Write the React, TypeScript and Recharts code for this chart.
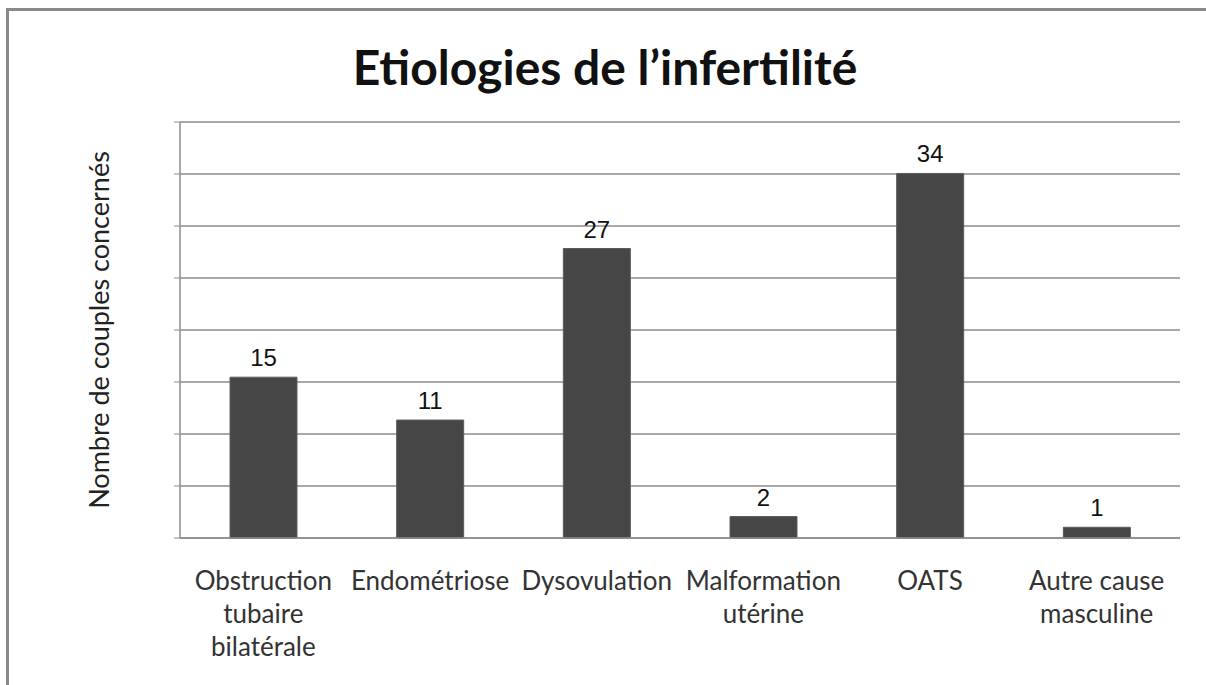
import { BarChart, Bar, XAxis, YAxis, CartesianGrid, LabelList } from 'recharts';

const categories = [
  'Obstruction\ntubaire\nbilatérale',
  'Endométriose',
  'Dysovulation',
  'Malformation\nutérine',
  'OATS',
  'Autre cause\nmasculine',
];
const couples = [15, 11, 27, 2, 34, 1];
// hidden value axis: 8 equal gridline steps
const yMax = 38.8;
const yTicks = [0, 4.85, 9.7, 14.55, 19.4, 24.25, 29.1, 33.95, 38.8];

const chartData = categories.map((name, i) => ({ name, value: couples[i] }));

const CategoryTick = (props: any) => {
  const { x, y, payload } = props;
  const lines = String(payload.value).split('\n');
  return (
    <g transform={`translate(${x},${y})`}>
      {lines.map((line, i) => (
        <text
          key={i}
          x={0}
          y={44 + i * 33}
          textAnchor="middle"
          fontFamily="Lato, 'Open Sans', sans-serif"
          fontSize={26}
          fill="#333"
        >
          {line}
        </text>
      ))}
    </g>
  );
};

export default function App() {
  return (
    <div style={{ position: 'absolute', left: 0, top: 0, width: 1206, height: 685, background: '#fff' }}>
      <div
        style={{
          position: 'absolute',
          left: 6,
          top: 8,
          right: 0,
          bottom: 0,
          borderTop: '3px solid #8a8a8a',
          borderLeft: '3px solid #8a8a8a',
        }}
      />
      <div
        style={{
          position: 'absolute',
          left: 0,
          width: 1210,
          top: 37,
          textAlign: 'center',
          fontFamily: "Lato, 'Open Sans', sans-serif",
          fontWeight: 700,
          fontSize: 48,
          lineHeight: '60px',
          color: '#111',
        }}
      >
        Etiologies de l’infertilité
      </div>
      <div
        style={{
          position: 'absolute',
          left: 98,
          top: 330,
          transform: 'translate(-50%, -50%) rotate(-90deg)',
          whiteSpace: 'nowrap',
          fontFamily: "Lato, 'Open Sans', sans-serif",
          fontSize: 27,
          color: '#222',
        }}
      >
        Nombre de couples concernés
      </div>
      <div style={{ position: 'absolute', left: 0, top: 0 }}>
        <BarChart
          width={1206}
          height={685}
          data={chartData}
          margin={{ top: 122, right: 26, bottom: 47, left: 174 }}
          barCategoryGap="30%"
        >
          <CartesianGrid vertical={false} stroke="#8c8c8c" strokeWidth={1.5} />
          <XAxis
            dataKey="name"
            tick={<CategoryTick />}
            tickLine={false}
            axisLine={{ stroke: '#8c8c8c', strokeWidth: 1.5 }}
            interval={0}
            height={100}
          />
          <YAxis
            domain={[0, yMax]}
            ticks={yTicks}
            width={6}
            tick={() => <g />}
            tickSize={6}
            tickLine={{ stroke: '#8c8c8c' }}
            axisLine={{ stroke: '#8c8c8c', strokeWidth: 1.5 }}
          />
          <Bar dataKey="value" fill="#464646" stroke="#5c5c5c" strokeWidth={1} isAnimationActive={false}>
            <LabelList
              dataKey="value"
              position="top"
              offset={11}
              fill="#111"
              fontSize={24}
              fontFamily="'Liberation Sans', Arial, sans-serif"
            />
          </Bar>
        </BarChart>
      </div>
    </div>
  );
}
